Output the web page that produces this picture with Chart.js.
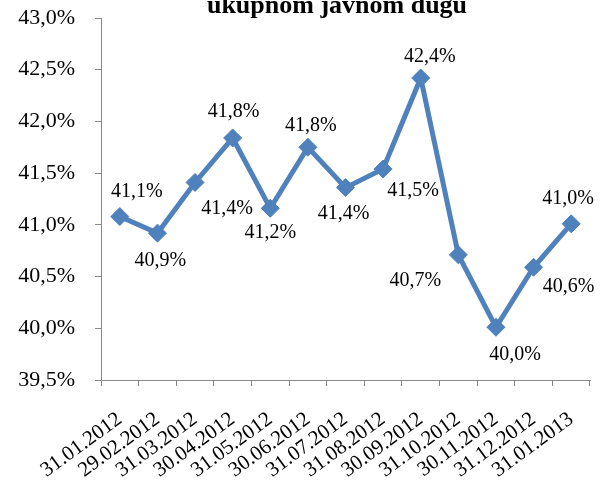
<!DOCTYPE html>
<html>
<head>
<meta charset="utf-8">
<script src="https://cdn.jsdelivr.net/npm/chart.js@4"></script>
<style>
  html, body { margin: 0; padding: 0; background: #fff; }
  canvas { display: block; }
</style>
</head>
<body>
<canvas id="c" width="601" height="480"></canvas>
<script>
const titleText = "ukupnom javnom dugu";
const categories = ["31.01.2012","29.02.2012","31.03.2012","30.04.2012","31.05.2012","30.06.2012","31.07.2012","31.08.2012","30.09.2012","31.10.2012","30.11.2012","31.12.2012","31.01.2013"];
const values = [41.08, 40.92, 41.41, 41.84, 41.16, 41.75, 41.36, 41.54, 42.42, 40.71, 40.01, 40.59, 41.01];
const yTicks = [39.5, 40.0, 40.5, 41.0, 41.5, 42.0, 42.5, 43.0];
// label offsets (dx, dy) relative to each point, in px
const labelOffsets = [[17,-25],[3,28],[32,26],[1,-26],[0,24],[3,-22],[-2,26],[30,22],[9,-21],[-43,26],[19,27],[35,19],[-3,-25]];

const fmt = v => v.toFixed(1).replace('.', ',') + '%';
const serif = "'Liberation Serif', 'Times New Roman', serif";

const labelPlugin = {
  id: 'pointLabels',
  afterDatasetsDraw(chart) {
    const ctx = chart.ctx;
    const meta = chart.getDatasetMeta(0);
    ctx.save();
    ctx.font = "20px " + serif;
    ctx.fillStyle = '#000';
    ctx.textAlign = 'center';
    ctx.textBaseline = 'middle';
    meta.data.forEach((pt, i) => {
      const off = labelOffsets[i] || [0, -22];
      ctx.fillText(fmt(values[i]), pt.x + off[0], pt.y + off[1]);
    });
    ctx.restore();
  }
};

const titlePlugin = {
  id: 'cutTitle',
  afterDraw(chart) {
    const ctx = chart.ctx;
    ctx.save();
    ctx.font = "bold 26px " + serif;
    ctx.fillStyle = '#000';
    ctx.textAlign = 'center';
    ctx.textBaseline = 'alphabetic';
    ctx.fillText(titleText, 337, 13);
    ctx.restore();
  }
};

new Chart(document.getElementById('c'), {
  type: 'line',
  data: {
    labels: categories,
    datasets: [{
      data: values,
      borderColor: '#4F81BD',
      backgroundColor: '#4F81BD',
      borderWidth: 5,
      pointStyle: 'rectRot',
      pointRadius: 9,
      pointHoverRadius: 9,
      pointBackgroundColor: '#4F81BD',
      pointBorderColor: '#4F81BD',
      pointBorderWidth: 1,
      tension: 0,
      fill: false
    }]
  },
  options: {
    responsive: false,
    animation: false,
    events: [],
    layout: { padding: { top: 18, right: 11, left: 0, bottom: 0 } },
    plugins: {
      legend: { display: false },
      title: { display: false },
      tooltip: { enabled: false }
    },
    scales: {
      x: {
        type: 'category',
        offset: true,
        grid: { offset: true, drawOnChartArea: false, drawTicks: true, tickLength: 6, color: '#888', lineWidth: 1 },
        border: { display: true, color: '#888', width: 1 },
        ticks: {
          color: '#000',
          font: { family: serif, size: 21 },
          minRotation: 36,
          maxRotation: 36,
          autoSkip: false,
          padding: 21
        },
        afterFit(scale) { scale.height = 100; scale.paddingLeft = 0; scale.paddingRight = 0; }
      },
      y: {
        min: 39.5,
        max: 43.0,
        afterBuildTicks(scale) { scale.ticks = yTicks.map(v => ({ value: v })); },
        grid: { drawOnChartArea: false, drawTicks: true, tickLength: 6, color: '#888', lineWidth: 1 },
        border: { display: true, color: '#888', width: 1 },
        ticks: {
          color: '#000',
          font: { family: serif, size: 22 },
          padding: 20,
          callback: v => fmt(v)
        },
        afterFit(scale) { scale.width = 101; scale.paddingTop = 0; scale.paddingBottom = 0; }
      }
    }
  },
  plugins: [labelPlugin, titlePlugin]
});
</script>
</body>
</html>
